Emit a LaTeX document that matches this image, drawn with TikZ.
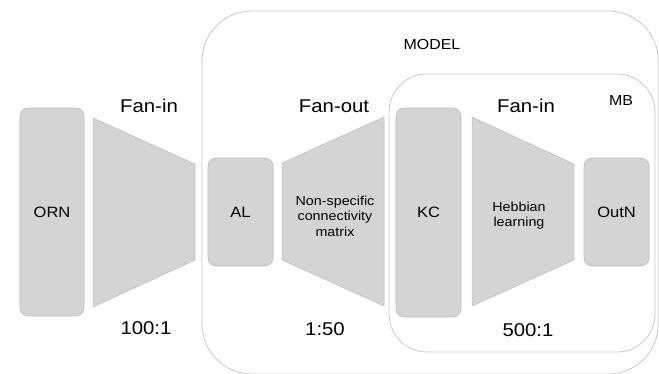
\documentclass[tikz,border=0pt]{standalone}
\usepackage{fontspec}
\setmainfont[FakeStretch=1.1]{Liberation Sans}
\definecolor{blkfill}{HTML}{D4D4D4}
\definecolor{blkline}{HTML}{BDBDBD}
\definecolor{frameline}{HTML}{C8C8C8}
\begin{document}
\begin{tikzpicture}[x=1pt,y=-1pt,
  blk/.style={draw=blkline, fill=blkfill, rounded corners=8pt, line width=0.6pt, inner sep=0pt, font=\fontsize{15}{18}\selectfont},
  trap/.style={draw=blkline, fill=blkfill, line width=0.5pt},
  frame/.style={draw=frameline, line width=0.8pt},
  big/.style={font=\fontsize{18.5}{22}\selectfont, inner sep=0pt},
  tag/.style={font=\fontsize{14.5}{17}\selectfont, inner sep=0pt},
  small/.style={font=\fontsize{13}{15.5}\selectfont, align=center, inner sep=0pt}]
\useasboundingbox (0,0) rectangle (659,373);
\fill[white] (0,0) rectangle (659,373);
\begin{scope}
\clip (0,0) rectangle (659,373);
\draw[frame, rounded corners=50pt] (202,11) rectangle (658.3,374);
\end{scope}
\draw[frame, rounded corners=38pt] (389,74) rectangle (655,352);
% blocks
\node[blk, minimum width=64pt, minimum height=208pt] (orn) at (52,212) {ORN};
\node[blk, minimum width=65pt, minimum height=108pt] (al) at (240.5,212) {AL};
\node[blk, minimum width=65pt, minimum height=209pt] (kc) at (428.5,212.5) {KC};
\node[blk, minimum width=65pt, minimum height=108pt] (outn) at (616.5,212) {OutN};
% trapezoids
\draw[trap] (93,118) -- (195,164) -- (195,260) -- (93,307) -- cycle;
\draw[trap] (282,163) -- (384,117) -- (384,306) -- (282,260) -- cycle;
\draw[trap] (472,117) -- (574,164) -- (574,260) -- (472,306) -- cycle;
\node[small] (ncm) at (335,216) {Non-specific\\connectivity\\matrix};
\node[small] (heb) at (519,215.5) {Hebbian\\learning};
% labels
\node[big] (fanin1) at (149,106) {Fan-in};
\node[big] (fanout) at (334,106) {Fan-out};
\node[big] (fanin2) at (526,106) {Fan-in};
\node[big] (r1) at (146,328) {100:1};
\node[big] (r2) at (325,329) {1:50};
\node[big] (r3) at (528,330) {500:1};
\node[tag] (model) at (432,45) {MODEL};
\node[tag] (mb) at (621,101) {MB};
\end{tikzpicture}
\end{document}
